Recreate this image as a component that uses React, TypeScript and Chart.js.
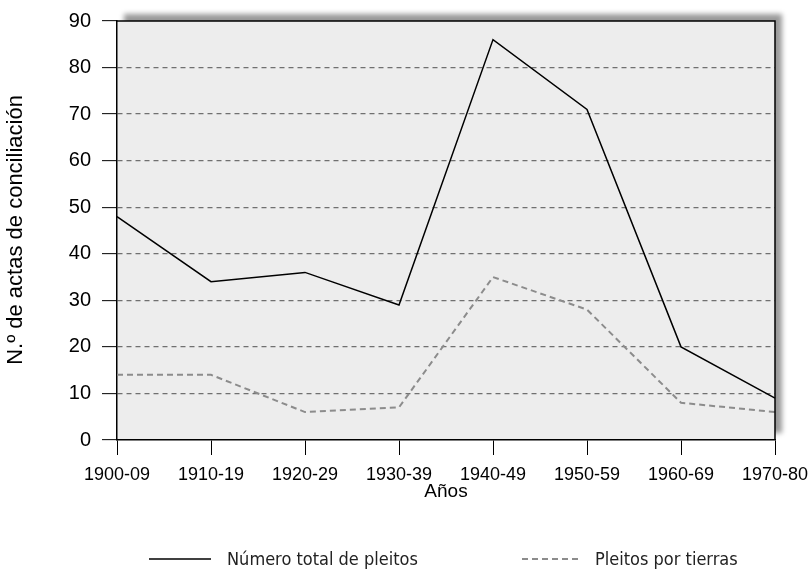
import React, { useEffect, useRef } from "react";
import { Chart, registerables } from "chart.js";

Chart.register(...registerables);

const categories = ["1900-09", "1910-19", "1920-29", "1930-39", "1940-49", "1950-59", "1960-69", "1970-80"];
const totalPleitos = [48, 34, 36, 29, 86, 71, 20, 9];
const pleitosTierras = [14, 14, 6, 7, 35, 28, 8, 6];
const seriesLabels = ["Número total de pleitos", "Pleitos por tierras"];
const yTitle = "N.º de actas de conciliación";
const xTitle = "Años";

const FONT = "'Liberation Sans', Arial, Helvetica, sans-serif";
const NARROW = "'Liberation Sans Narrow', 'DejaVu Sans Condensed', sans-serif";

const framePlugin = {
  id: "frame",
  beforeDraw(chart: any) {
    const { ctx, chartArea: a } = chart;
    ctx.save();
    ctx.shadowColor = "rgba(0,0,0,0.4)";
    ctx.shadowBlur = 5;
    ctx.shadowOffsetX = 7;
    ctx.shadowOffsetY = -7;
    ctx.fillStyle = "#ededed";
    ctx.fillRect(a.left, a.top, a.right - a.left, a.bottom - a.top);
    ctx.restore();
  },
  afterDraw(chart: any) {
    const { ctx, chartArea: a } = chart;
    ctx.save();
    ctx.strokeStyle = "#000";
    ctx.lineWidth = 1.5;
    ctx.beginPath();
    ctx.moveTo(a.left, a.top);
    ctx.lineTo(a.right, a.top);
    ctx.lineTo(a.right, a.bottom);
    ctx.stroke();

    // axis titles
    ctx.fillStyle = "#000";
    ctx.font = `19px ${FONT}`;
    ctx.textAlign = "center";
    ctx.textBaseline = "middle";
    ctx.fillText(xTitle, (a.left + a.right) / 2, 492);
    ctx.save();
    ctx.translate(16, 230);
    ctx.rotate(-Math.PI / 2);
    ctx.font = `22px ${FONT}`;
    ctx.fillText(yTitle, 0, 0);
    ctx.restore();

    // legend
    const ly = 559;
    ctx.lineWidth = 1.5;
    ctx.strokeStyle = "#000";
    ctx.setLineDash([]);
    ctx.beginPath();
    ctx.moveTo(149, ly);
    ctx.lineTo(211, ly);
    ctx.stroke();
    ctx.strokeStyle = "#8c8c8c";
    ctx.lineWidth = 2;
    ctx.setLineDash([6, 4]);
    ctx.beginPath();
    ctx.moveTo(522, ly);
    ctx.lineTo(580, ly);
    ctx.stroke();
    ctx.setLineDash([]);
    ctx.font = `18px ${NARROW}`;
    ctx.textAlign = "left";
    ctx.fillStyle = "#222";
    ctx.fillText(seriesLabels[0], 227, ly + 1);
    ctx.fillText(seriesLabels[1], 595, ly + 1);
    ctx.restore();
  },
};

export default function App() {
  const ref = useRef<HTMLCanvasElement>(null);
  useEffect(() => {
    const chart = new Chart(ref.current!, {
      type: "line",
      data: {
        labels: categories,
        datasets: [
          {
            label: seriesLabels[0],
            data: totalPleitos,
            borderColor: "#000",
            borderWidth: 1.5,
            pointRadius: 0,
            tension: 0,
            fill: false,
          },
          {
            label: seriesLabels[1],
            data: pleitosTierras,
            borderColor: "#8c8c8c",
            borderWidth: 2,
            borderDash: [6, 4],
            pointRadius: 0,
            tension: 0,
            fill: false,
          },
        ],
      },
      options: {
        responsive: false,
        animation: false,
        layout: { padding: { top: 21, right: 34, left: 0, bottom: 0 } },
        plugins: { legend: { display: false }, tooltip: { enabled: false } },
        scales: {
          x: {
            offset: false,
            afterFit: (s: any) => {
              s.height = 129;
              s.paddingLeft = 0;
              s.paddingRight = 0;
            },
            grid: {
              drawOnChartArea: false,
              tickLength: 15,
              tickColor: "#000",
              tickWidth: 1,
            },
            border: { color: "#000", width: 1.5 },
            ticks: {
              color: "#000",
              font: { family: FONT, size: 18 },
              padding: 9,
              maxRotation: 0,
              autoSkip: false,
            },
          },
          y: {
            min: 0,
            max: 90,
            afterFit: (s: any) => {
              s.width = 117;
              s.paddingTop = 0;
              s.paddingBottom = 0;
            },
            grid: {
              color: (c: any) =>
                c.tick && (c.tick.value === 0 || c.tick.value === 90) ? "rgba(0,0,0,0)" : "#707070",
              lineWidth: 1.3,
              tickBorderDash: [],
              tickLength: 15,
              tickColor: "#000",
              tickWidth: 1,
            } as any,
            border: { color: "#000", width: 1.5, dash: [5, 4] } as any,
            ticks: {
              stepSize: 10,
              color: "#000",
              font: { family: FONT, size: 20 },
              padding: 11,
            },
          },
        },
      },
      plugins: [framePlugin],
    });
    return () => chart.destroy();
  }, []);
  return (
    <div style={{ position: "fixed", left: 0, top: 0, width: 809, height: 569, background: "#fff" }}>
      <canvas ref={ref} width={809} height={569} style={{ width: 809, height: 569, display: "block" }} />
    </div>
  );
}
